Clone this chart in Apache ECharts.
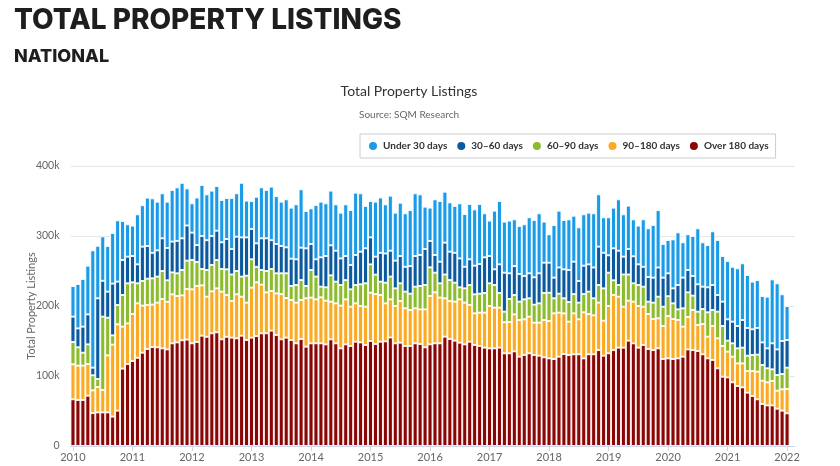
<!DOCTYPE html>
<html><head><meta charset="utf-8">
<script src="https://cdn.jsdelivr.net/npm/echarts@6/dist/echarts.min.js"></script>
<style>html,body{margin:0;padding:0;background:#fff}#c{width:840px;height:466px}</style>
</head><body><div id="c"></div>
<script>
// Monthly listings, Jan 2010 .. Jan 2022, values in thousands
const startYear = 2010;
const yearLabels = ['2010','2011','2012','2013','2014','2015','2016','2017','2018','2019','2020','2021','2022'];
const yTickLabels = ['0','100k','200k','300k','400k'];
const seriesNames = ['Under 30 days','30\u201360 days','60\u201390 days','90\u2013180 days','Over 180 days'];

const over180 = [66.7,65.7,65.7,71.9,47,48,48,48,42,50.5,110.5,117,121.4,126,133.3,138.6,141.4,141,139.5,138,146.7,148,151,152,
146.7,148.6,157.6,156,161,162.4,152.4,156,154.8,153.8,157.6,151.4,154.8,157,161,161,164.8,158.6,152.4,154.8,151.4,146.7,152.9,141.9,
146.7,146.7,146.7,145.2,152.4,146.7,139.5,145.2,142.9,149,148,144.3,150,145.7,149,149.5,155,146.7,147.6,142.9,142.9,146.7,145.7,141,
145.2,146.7,146.7,156.2,152.9,150.5,147.6,145.2,149,144.3,142.9,140.5,139.5,139.5,140.5,132.4,132.4,135.2,127.6,130,132.4,130,129,126.7,
125.2,124.3,127.6,131.4,130,131,131,125.2,131,131,137,129,132.4,137,140.5,140.5,150.5,146.7,140.5,144.3,138.6,137,139.5,124.3,
125.2,124.3,125.2,127.6,138,137,135.7,131,125.2,122.9,111,99,98,91,85.7,83.8,76.2,71.4,66.7,60,58,58,53.3,50.5,46.7];
const d90to180 = [50,49.1,49.1,45.1,32.5,36.3,32,81.5,102.8,123.3,60,58.2,67.2,77.8,67.2,62.8,60.6,63.8,70.5,68,70,66.3,64.2,72.3,
77.1,80,71.9,57.3,60,62.8,68.1,59.7,52.2,62.9,55.7,53.4,71.4,76.8,69.5,58.5,56.6,59.4,64.6,56.6,57.2,58.1,55.7,69.1,
65.3,62.8,65.7,62.4,53.8,57.1,61,64.3,56.1,54.8,52,54.7,69,71.3,66.7,54.3,54.5,53.3,59.4,53.8,51.4,50,49.5,54.2,
69.1,72.8,65.3,54.8,54.1,55.7,61.9,59.6,52.4,45.2,47.6,50,60.5,58.1,57.1,44.3,44.6,52.8,52.4,51,52.4,46.2,47.2,53.3,
53.4,65.2,62.9,58.1,47.6,58.5,50,65.8,57.6,55.7,67.8,50,67.6,78.7,72.8,58.5,57.1,59.5,59.5,54.7,50,44.4,42.9,47.1,
60.5,57.1,54.8,42.9,46.3,57.3,37.2,43.3,31,48.5,42.8,43.9,36.8,36.6,32.3,34.2,30.8,35.6,39.5,33.3,33,34.9,25.7,30.5,34.7];
const d60to90 = [31.9,26.2,18.5,28.2,21.5,11.4,104.8,53.8,13.2,27.6,45.2,57.2,45.2,28.6,35.2,37.6,37.5,37.2,40,30.7,31.3,32.4,36.2,40.5,
41.9,34.4,23.4,38.1,37.6,40.5,32.4,36.7,38,33.3,28.7,38.5,40.5,22.2,20.9,30.5,31.5,28.7,29.7,35.3,20,25.2,28.4,17.6,
39.4,32.5,15.2,19.1,37.6,31,29.5,27.5,24.8,26.2,31,33.4,40.5,27.8,19.1,29.5,32.5,25.2,25.4,23.8,23.3,30.9,33.4,34.8,
40.9,28.1,20.4,34,30,27.1,17.2,20.4,28.6,27.2,27.1,28.1,32.4,32.4,21,15.2,33,27.7,26.2,28.5,26.2,25.7,27.6,38.6,
40.4,21.5,27.1,21.5,28.1,27.5,23.8,26,31.9,24.3,25.2,46.2,47.6,21,16.7,46,37.4,26.2,30,28.6,17.6,23.4,30.9,27.6,
28.3,22.4,15.2,26.2,35.2,20.5,19,21.4,34.8,22.9,38.1,28.5,15.7,19.1,21.5,22.5,22,23,24.3,22.4,20,16.6,22.4,21.9,30.5];
const d30to60 = [36.2,27,37.2,42.8,10.9,115.3,51.2,37.2,74,33.4,50,38.1,37.6,27.1,49.1,46.7,36.5,37.5,46.7,46.1,44,46.3,45.3,50.2,
39.1,24,47.1,42.6,41.4,41.9,38.1,43.3,36.4,49,56,54.7,43.3,33.5,45.3,46.7,41.1,41.9,39,37.1,39,36.7,46.3,53.8,
37.2,24.7,41.9,44.7,42.9,44.2,38,34.4,34.8,42.9,46.6,50,38.5,25.7,41.2,41.7,37,39.6,39,35.5,39.4,43.8,44.3,51.4,
37.7,25.3,30.9,45.5,40.6,42.7,41.3,30.8,36.7,40.9,42.4,50.9,39,22.4,40.9,55.7,36.7,41.3,39.5,33.4,35.7,39.1,42.9,43.3,
42.9,29.5,37.4,41.4,45.7,46.3,30.9,40.6,39,44,54.8,50.8,24.8,45.7,49,25.5,36.4,38.6,29.5,28.4,35.2,35.7,41.7,41.5,
32.7,21.4,34.8,43.8,31.9,28.1,39.1,31.9,35.7,35.7,23.8,34.8,30.5,30.9,31.9,39.5,39.6,36.7,38.1,32.3,28.5,37.2,36.6,47.1,39.5];
const under30 = [43.8,63.4,68.1,69.6,167.6,75,63.5,65.2,72.3,87.6,55.7,46.2,43.4,71.5,59.2,69.1,77.8,69.5,64.3,66.2,73.7,76.5,79.3,53,
41.9,68,72.9,65.5,64.8,63.8,60.4,58.6,72.9,62,78,52.5,40,66.5,72.8,69,76.5,68.4,63.3,68.6,72.9,78.5,83.4,53.3,
50.9,77.6,79.5,75.3,78.1,66.2,65.3,73.8,78.4,89,83.4,60.5,52,78.5,79,70.2,78.6,68.5,76.2,76.4,80,89.6,86.6,60.5,
47.6,79.5,86.7,72.8,70.4,66.9,78.7,75.4,79,80.4,85.7,62.9,50.6,83.8,90.5,72.9,75.3,66.8,68.6,73.8,80,81.9,85.7,58.6,
40.5,75.2,81.2,70.5,72.4,65.7,76.7,73.4,73.8,77.4,74.7,50.7,54.3,58.1,73.4,60.5,61.9,52.8,55.3,67.8,69.6,75.2,82,48.1,
47.6,70,75.2,50.5,51,57.1,80,63.4,60.4,76.7,78.6,65.2,83.3,78.4,82.4,81,75.7,68.1,68.4,66.3,73.8,91.3,94.4,66.7,48.6];

// month categories Jan 2010 .. Jan 2022, plus one trailing empty slot of axis padding
const months = [];
for (let i = 0; i < over180.length + 1; i++) {
  months.push((startYear + Math.floor(i / 12)) + '-' + String(i % 12 + 1).padStart(2, '0'));
}

const colors = ['#1a9be8','#0b5a9f','#8cbb2e','#fbab22','#8b0505'];
const stackOrder = [over180, d90to180, d60to90, d30to60, under30];
const stackNames = [seriesNames[4], seriesNames[3], seriesNames[2], seriesNames[1], seriesNames[0]];
const stackColors = [colors[4], colors[3], colors[2], colors[1], colors[0]];

const chart = echarts.init(document.getElementById('c'), null, {renderer:'canvas'});
const isYearStart = (idx) => idx % 12 === 0 && idx <= 144;

const series = stackOrder.map((arr, k) => ({
  name: stackNames[k],
  type: 'bar',
  stack: 'total',
  barCategoryGap: '0%',
  itemStyle: { color: stackColors[k], borderColor: '#ffffff', borderWidth: 0.9 },
  emphasis: { disabled: true },
  data: arr
}));

chart.setOption({
  animation: false,
  color: colors,
  textStyle: { fontFamily: 'Lato, "Noto Sans", sans-serif' },
  graphic: [
    { type: 'text', left: 14, top: 7, style: { text: 'TOTAL PROPERTY LISTINGS', font: '800 28px Inter, "Open Sans", sans-serif', fill: '#1e1e1e' } },
    { type: 'text', left: 14, top: 48, style: { text: 'NATIONAL', font: '800 18px Inter, "Open Sans", sans-serif', fill: '#1e1e1e' } },
    { type: 'text', x: 409, y: 91, style: { text: 'Total Property Listings', font: '14px Lato, sans-serif', fill: '#333333', textAlign: 'center', textVerticalAlign: 'middle' } },
    { type: 'text', x: 409, y: 115, style: { text: 'Source: SQM Research', font: '10px Lato, sans-serif', fill: '#666666', textAlign: 'center', textVerticalAlign: 'middle' } }
  ],
  legend: {
    data: seriesNames,
    left: 360, top: 134,
    orient: 'horizontal',
    icon: 'circle',
    itemWidth: 10, itemHeight: 10,
    itemGap: 8,
    padding: [6, 7],
    borderColor: '#cccccc', borderWidth: 1, backgroundColor: '#ffffff',
    textStyle: { color: '#333333', fontSize: 10, fontWeight: 'bold', fontFamily: 'Lato, sans-serif' },
    selectedMode: false
  },
  grid: { left: 70.5, right: 45.5, top: 166, bottom: 20, containLabel: false },
  xAxis: {
    type: 'category',
    data: months,
    boundaryGap: true,
    axisLine: { show: true, lineStyle: { color: '#ccd6eb' } },
    axisTick: { show: true, alignWithLabel: true, interval: (idx) => isYearStart(idx), length: 5, lineStyle: { color: '#ccd6eb' } },
    axisLabel: {
      interval: (idx) => isYearStart(idx),
      formatter: (v, idx) => yearLabels[Math.round(idx / 12)],
      color: '#666666', fontSize: 11, margin: 6
    }
  },
  yAxis: {
    type: 'value',
    min: 0, max: 400, interval: 100,
    name: 'Total Property Listings',
    nameLocation: 'middle', nameGap: 34, nameRotate: 90,
    nameMoveOverlap: false,
    nameTextStyle: { color: '#666666', fontSize: 11 },
    axisLine: { show: false }, axisTick: { show: false },
    axisLabel: { formatter: v => yTickLabels[Math.round(v / 100)], color: '#666666', fontSize: 10.5, margin: 11 },
    splitLine: { lineStyle: { color: '#e6e6e6' } }
  },
  series: series
});
</script></body></html>
